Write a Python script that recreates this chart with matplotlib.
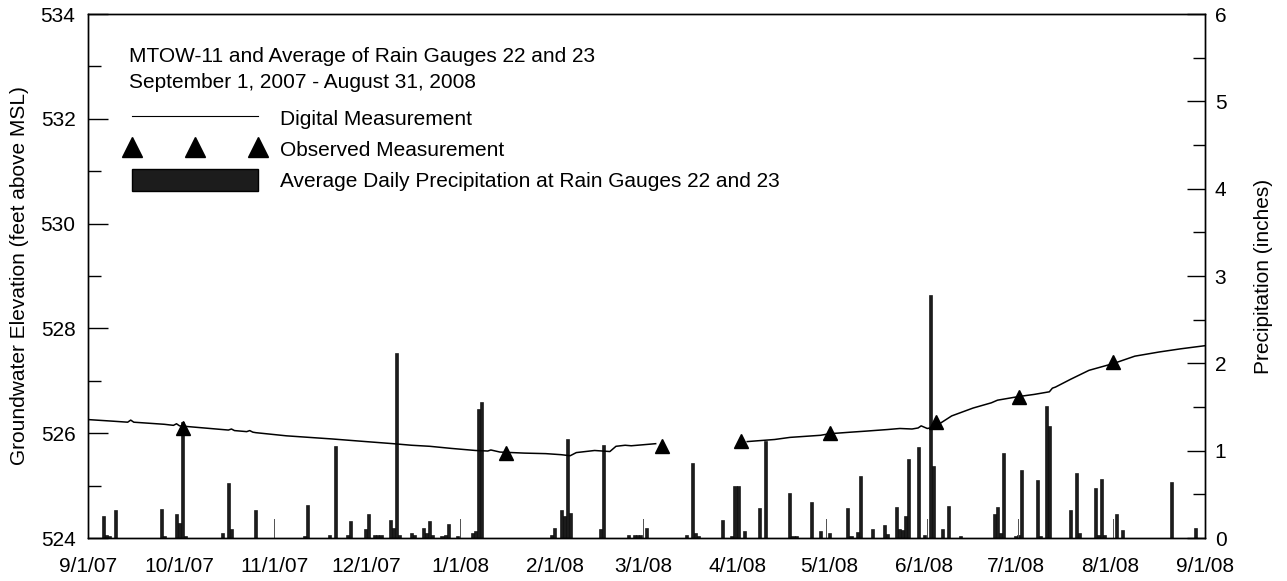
import numpy as np
import pandas as pd
import matplotlib
matplotlib.use("Agg")
import matplotlib.pyplot as plt
import matplotlib.dates as mdates
from matplotlib.lines import Line2D
from matplotlib.patches import Patch
from matplotlib.legend_handler import HandlerLine2D
from matplotlib.ticker import MultipleLocator, FuncFormatter

plt.rcParams["font.family"] = ["Liberation Sans", "DejaVu Sans"]

START = pd.Timestamp("2007-09-01")

# groundwater elevation (digital logger), day offsets from 9/1/07; NaN = data gap
gw_days = [0, 8, 13, 14, 15, 25, 28, 29, 30, 40, 46, 47, 48, 52, 53, 54, 55, 65,
           80, 91, 100, 106, 112, 119, 127, 131, 132, 135, 143, 150, 155, 158, 160,
           166, 171, 173, 176, 178, 182, 186, 200,
           216, 225, 230, 240, 243, 250, 255, 262, 266, 270, 272, 273, 275, 276,
           279, 283, 290, 296, 298, 305, 310, 315, 316, 317, 322, 328, 336, 343,
           351, 358, 366]
gw_elev = [526.26, 526.23, 526.21, 526.25, 526.21, 526.17, 526.15, 526.18, 526.14,
           526.09, 526.06, 526.08, 526.05, 526.03, 526.05, 526.02, 526.01, 525.95,
           525.89, 525.84, 525.80, 525.77, 525.75, 525.71, 525.67, 525.66, 525.68,
           525.64, 525.62, 525.61, 525.59, 525.57, 525.63, 525.67, 525.65, 525.75,
           525.77, 525.76, 525.78, 525.80, np.nan,
           525.84, 525.88, 525.92, 525.96, 525.99, 526.02, 526.04, 526.07, 526.09,
           526.08, 526.10, 526.14, 526.09, 526.10, 526.18, 526.33, 526.48, 526.58,
           526.63, 526.70, 526.74, 526.79, 526.86, 526.88, 527.03, 527.20, 527.33,
           527.47, 527.55, 527.61, 527.67]

# observed (manual) measurements
obs_dates = ["2007-10-02", "2008-01-16", "2008-03-07", "2008-04-02",
             "2008-05-01", "2008-06-05", "2008-07-02", "2008-08-02"]
obs_elev = [526.10, 525.62, 525.75, 525.86, 526.00, 526.22, 526.70, 527.35]

# average daily precipitation (inches), day offsets from 9/1/07
precip_days = [5, 6, 7, 9, 24, 25, 29, 30, 31, 32, 44, 46, 47, 55, 71, 72, 79, 81,
               85, 86, 91, 92, 94, 95, 96, 99, 100, 101, 102, 106, 107, 110, 111,
               112, 113, 116, 117, 118, 121, 126, 127, 128, 129, 152, 153, 155, 156,
               157, 158, 168, 169, 177, 179, 180, 181, 183, 196, 198, 199, 200, 208,
               211, 212, 213, 215, 220, 222, 230, 231, 232, 237, 240, 243, 249, 250,
               252, 253, 257, 261, 262, 265, 266, 267, 268, 269, 272, 274, 276, 277,
               280, 282, 286, 297, 298, 299, 300, 304, 305, 306, 311, 312, 314, 315,
               322, 324, 325, 330, 331, 332, 333, 337, 339, 355, 363]
precip_in = [0.25, 0.04, 0.02, 0.32, 0.33, 0.02, 0.27, 0.17, 1.33, 0.02, 0.06, 0.63,
             0.10, 0.32, 0.02, 0.38, 0.03, 1.05, 0.03, 0.19, 0.10, 0.27, 0.03, 0.04,
             0.04, 0.21, 0.12, 2.12, 0.04, 0.06, 0.04, 0.11, 0.06, 0.19, 0.03, 0.02,
             0.04, 0.16, 0.02, 0.06, 0.08, 1.48, 1.56, 0.04, 0.11, 0.32, 0.25, 1.13,
             0.29, 0.10, 1.06, 0.04, 0.03, 0.03, 0.04, 0.11, 0.04, 0.86, 0.06, 0.02,
             0.21, 0.02, 0.60, 0.60, 0.08, 0.34, 1.11, 0.52, 0.02, 0.02, 0.41, 0.08,
             0.06, 0.34, 0.02, 0.07, 0.71, 0.10, 0.15, 0.05, 0.36, 0.10, 0.09, 0.25,
             0.91, 1.04, 0.04, 2.78, 0.82, 0.10, 0.37, 0.02, 0.27, 0.36, 0.06, 0.97,
             0.02, 0.03, 0.78, 0.66, 0.02, 1.51, 1.28, 0.32, 0.74, 0.06, 0.57, 0.04,
             0.68, 0.04, 0.28, 0.09, 0.64, 0.12]
# thin single-reading spikes
spike_days = [61, 122, 153, 182, 242, 275, 305, 336]
spike_in = [0.22, 0.22, 0.22, 0.22, 0.22, 0.22, 0.22, 0.22]

FS = 15


def to_dates(days):
    return START + pd.to_timedelta(days, unit="D")


fig = plt.figure(figsize=(12.87, 5.81), dpi=100)
ax = fig.add_axes([88 / 1287, 1 - 538 / 581, (1205 - 88) / 1287, (538 - 14) / 581])
ax2 = ax.twinx()

# precipitation bars on the right axis (drawn underneath)
ax2.bar(to_dates(precip_days), precip_in, width=1.0, color="#1c1c1c",
        edgecolor="black", linewidth=0.4, align="center")
ax2.bar(to_dates(spike_days), spike_in, width=0.25, color="#555555",
        edgecolor="none", align="center")
ax2.set_ylim(0, 6)
ax2.yaxis.set_major_locator(MultipleLocator(1))
ax2.yaxis.set_minor_locator(MultipleLocator(0.5))
ax2.tick_params(axis="y", which="major", direction="in", length=13, width=1,
                labelsize=FS, pad=7)
ax2.tick_params(axis="y", which="minor", direction="in", length=8.5, width=1)
ax2.set_ylabel("Precipitation (inches)", fontsize=FS, labelpad=20)

# groundwater on the left axis, on top
ax.set_zorder(ax2.get_zorder() + 1)
ax.patch.set_visible(False)
ax.plot(to_dates(gw_days), gw_elev, color="black", linewidth=1.1)
ax.plot(pd.to_datetime(obs_dates), obs_elev, linestyle="none", marker="^",
        markersize=10.5, color="black")
ax.set_ylim(524, 534)
ax.yaxis.set_major_locator(MultipleLocator(2))
ax.yaxis.set_minor_locator(MultipleLocator(1))
ax.tick_params(axis="y", which="major", direction="in", length=14.5, width=1,
               labelsize=FS, pad=9)
ax.tick_params(axis="y", which="minor", direction="in", length=9.5, width=1)
ax.set_ylabel("Groundwater Elevation (feet above MSL)", fontsize=FS, labelpad=8)

ax.set_xlim(START, pd.Timestamp("2008-09-01"))
ax.xaxis.set_major_locator(mdates.MonthLocator())
ax.xaxis.set_major_formatter(FuncFormatter(
    lambda v, p: "{}/{}/{}".format(mdates.num2date(v).month, mdates.num2date(v).day,
                                   mdates.num2date(v).strftime("%y"))))
ax.tick_params(axis="x", length=0, labelsize=FS, pad=14)

for a in (ax, ax2):
    for s in a.spines.values():
        s.set_linewidth(1.0)

ax.text(0.037, 0.937, "MTOW-11 and Average of Rain Gauges 22 and 23\n"
        "September 1, 2007 - August 31, 2008", transform=ax.transAxes,
        fontsize=FS, va="top", ha="left", linespacing=1.45)

handles = [Line2D([], [], color="black", linewidth=0.8),
           Line2D([], [], linestyle="none", marker="^", markersize=15, color="black"),
           Patch(facecolor="#1c1c1c", edgecolor="black")]
labels = ["Digital Measurement", "Observed Measurement",
          "Average Daily Precipitation at Rain Gauges 22 and 23"]
ax.legend(handles, labels, loc="upper left", bbox_to_anchor=(0.0394, 0.822),
          frameon=False, fontsize=FS, numpoints=3, handlelength=6.05,
          handleheight=1.2, handletextpad=1.05, labelspacing=0.45, borderpad=0,
          borderaxespad=0, handler_map={Line2D: HandlerLine2D(marker_pad=0)})

fig.savefig("out.png", dpi=100)
